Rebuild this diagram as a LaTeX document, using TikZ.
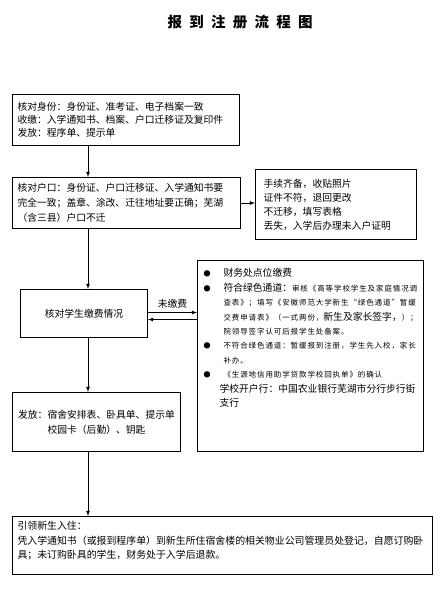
\documentclass[tikz,border=0pt]{standalone}
\usepackage{fontspec}
\setmainfont{Noto Sans CJK SC}
\usepackage{tikz}
\usetikzlibrary{arrows,calc}

\newcommand{\bul}{\makebox[20pt][l]{\fontsize{7}{7}\selectfont ●}}
\newcommand{\smtext}[1]{{\fontsize{7.5}{14.4}\selectfont\addfontfeature{LetterSpace=12}#1}}

\begin{document}
\begin{tikzpicture}[
    x=1pt, y=-1pt,
    font=\fontsize{9.8}{13}\selectfont,
    box/.style={rectangle, draw=black, line width=1pt, anchor=north west, inner xsep=5pt, inner ysep=0pt, align=left},
    arrow/.style={draw, -latex, line width=0.8pt}
]
\fill [white] (0,0) rectangle (445,595);
\useasboundingbox (0,0) rectangle (445,595);

\node [font=\fontsize{14.5}{16}\selectfont\bfseries\addfontfeature{LetterSpace=50}] (title) at (240,22) {报到注册流程图};

\coordinate (spine) at (88,0);

\node [box, minimum width=227pt, minimum height=51pt, text width=217pt] (check) at (12,94)
  {核对身份：身份证、准考证、电子档案一致\\收缴：入学通知书、档案、户口迁移证及复印件\\发放：程序单、提示单};
\node [box, minimum width=228pt, minimum height=51pt, text width=218pt, font=\fontsize{9.8}{15}\selectfont] (hukou) at (12,177)
  {核对户口：身份证、户口迁移证、入学通知书要\\完全一致；盖章、涂改、迁往地址要正确；芜湖\\（含三县）户口不迁};
\node [box, minimum width=161pt, minimum height=70pt, inner xsep=8pt, text width=145pt, font=\fontsize{9.8}{14}\selectfont] (note) at (255,169)
  {手续齐备，收贴照片\\证件不符，退回更改\\不迁移，填写表格\\丢失，入学后办理未入户证明};
\node [box, minimum width=127pt, minimum height=48pt, align=center] (fee) at (20,289) {核对学生缴费情况};
\node [box, minimum width=226pt, minimum height=191pt, inner xsep=6pt] (channel) at (197,260)
  {\parbox[c][191pt][t]{214pt}{\fontsize{9.8}{14.4}\selectfont\raggedright\vspace*{8pt}%
  \bul 财务处点位缴费\\
  \bul 符合绿色通道：\smtext{审核《高等学校学生及家庭情况调}\\
  \hspace*{20pt}\smtext{查表》；填写《安徽师范大学新生“绿色通道”暂缓}\\
  \hspace*{20pt}\smtext{交费申请表》（一式两份，}新生及家长签字，\smtext{）；}\\
  \hspace*{20pt}\smtext{院领导签字认可后报学生处备案。}\\
  \bul\smtext{不符合绿色通道：暂缓报到注册，学生先入校，家长}\\
  \hspace*{20pt}\smtext{补办。}\\
  \bul\smtext{《生源地信用助学贷款学校回执单》的确认}\\
  \hspace*{16pt}学校开户行：中国农业银行芜湖市分行步行街\\
  \hspace*{16pt}支行}};
\node [box, minimum width=168pt, minimum height=59pt, align=center, font=\fontsize{9.8}{15}\selectfont] (issue) at (12,392)
  {发放：宿舍安排表、卧具单、提示单\\校园卡（后勤）、钥匙};
\node [box, minimum width=420pt, minimum height=58pt] (move) at (12,516)
  {\parbox[c][58pt][t]{410pt}{\fontsize{9.9}{14.5}\selectfont\raggedright\vspace*{5pt}%
  引领新生入住：\\
  凭入学通知书（或报到程序单）到新生所住宿舍楼的相关物业公司管理员处登记，自愿订购卧\\
  具；未订购卧具的学生，财务处于入学后退款。}};

% main line
\draw [arrow] (check.south -| spine) -- (hukou.north -| spine);
\draw [arrow] (hukou.south -| spine) -- (fee.north -| spine);
\draw [arrow] (fee.south -| spine) -- (issue.north -| spine);
\draw [arrow] (issue.south -| spine) -- (move.north -| spine);

% side branches
\draw [arrow] (hukou.east) -- (hukou.east -| note.west);
\draw [arrow] ([yshift=1pt]fee.east) -- node[above] {未缴费} ([yshift=1pt]fee.east -| channel.west);
\draw [arrow] ([yshift=-6pt]fee.east -| channel.west) -- ([yshift=-6pt]fee.east);

\end{tikzpicture}
\end{document}
